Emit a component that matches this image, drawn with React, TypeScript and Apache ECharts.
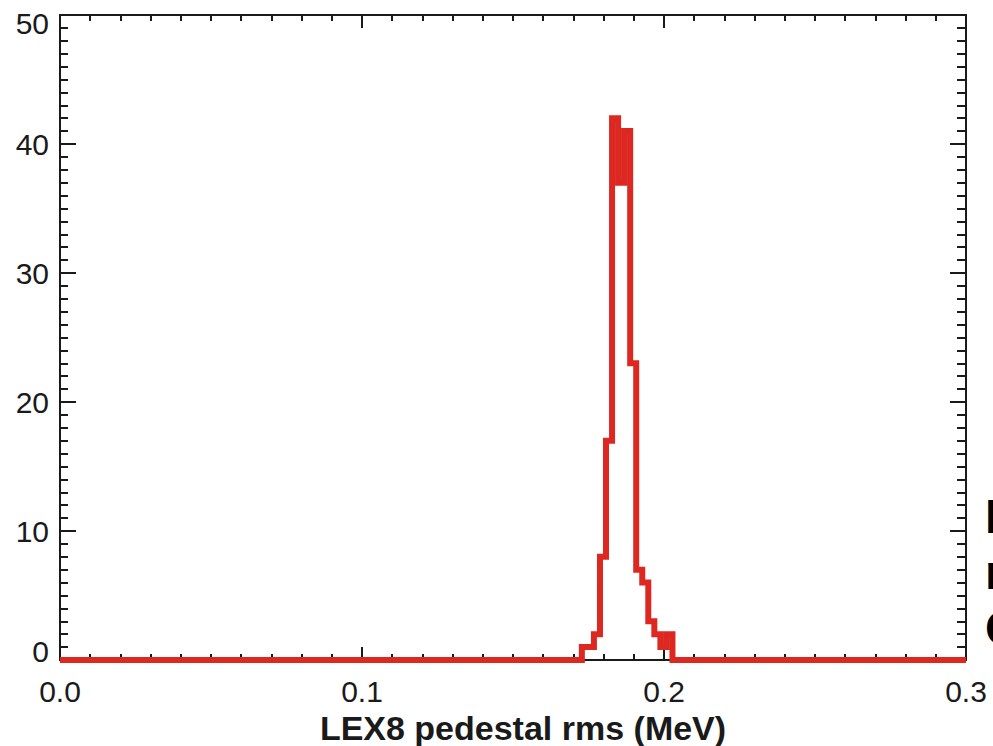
import React, { useEffect, useRef } from "react";
import * as echarts from "echarts";

// Histogram of LEX8 pedestal rms (MeV)
const binStart = 0.1728;
const binWidth = 0.002;
const counts = [1, 1, 2, 8, 17, 42, 37, 41, 23, 7, 6, 3, 2, 1, 2];
const xRange = [0.0, 0.3];
const yRange = [0, 50];
const xLabelDigits = 1;
const xTitle = "LEX8 pedestal rms (MeV)";
const statLines = ["Mean = 0.186", "rms = 0.004", "Count = 193"];

const RED = "#DC2820";
const INK = "#1a1a1a";
const FONT = "'Liberation Sans', Arial, Helvetica, sans-serif";

function buildSteps(): number[][] {
  const pts: number[][] = [[xRange[0], 0], [binStart, 0]];
  counts.forEach((c, i) => {
    const l = binStart + i * binWidth;
    const r = l + binWidth;
    pts.push([l, c], [r, c]);
  });
  const end = binStart + counts.length * binWidth;
  pts.push([end, 0], [xRange[1], 0]);
  return pts;
}

export default function App() {
  const ref = useRef<HTMLDivElement>(null);
  useEffect(() => {
    if (!ref.current) return;
    const chart = echarts.init(ref.current, undefined, { renderer: "svg" });
    const axisLine = { show: true, onZero: false, lineStyle: { color: INK, width: 2 } };
    const xBase = {
      type: "value" as const,
      min: xRange[0],
      max: xRange[1],
      interval: 0.1,
      splitLine: { show: false },
      axisLine,
    };
    const yBase = {
      type: "value" as const,
      min: yRange[0],
      max: yRange[1],
      interval: 10,
      splitLine: { show: false },
      axisLine,
    };
    chart.setOption({
      animation: false,
      backgroundColor: "#ffffff",
      grid: {
        left: 60,
        right: 27,
        top: 15,
        bottom: 86,
        containLabel: false,
        outerBoundsMode: "none",
      },
      xAxis: [
        {
          ...xBase,
          position: "bottom",
          axisTick: { show: true, inside: true, length: 13, lineStyle: { color: INK, width: 2 } },
          minorTick: { show: true, splitNumber: 10, length: 6, lineStyle: { color: INK, width: 2 } },
          axisLabel: {
            show: true,
            margin: 16,
            fontFamily: FONT,
            fontSize: 30,
            color: INK,
            formatter: (v: number) => v.toFixed(xLabelDigits),
          },
          name: xTitle,
          nameLocation: "middle",
          nameGap: 46,
          nameTextStyle: {
            fontFamily: FONT,
            fontSize: 34,
            fontWeight: "bold",
            color: INK,
            padding: [0, 0, 0, 20],
          },
        },
        {
          ...xBase,
          position: "top",
          axisTick: { show: true, inside: true, length: 13, lineStyle: { color: INK, width: 2 } },
          minorTick: { show: true, splitNumber: 10, length: 6, lineStyle: { color: INK, width: 2 } },
          axisLabel: { show: false },
        },
      ],
      yAxis: [
        {
          ...yBase,
          position: "left",
          axisTick: { show: true, inside: true, length: 16, lineStyle: { color: INK, width: 2 } },
          minorTick: { show: true, splitNumber: 10, length: 8, lineStyle: { color: INK, width: 2 } },
          axisLabel: {
            show: true,
            margin: 11,
            fontFamily: FONT,
            fontSize: 30,
            lineHeight: 17,
            color: INK,
            verticalAlignMinLabel: "bottom",
            verticalAlignMaxLabel: "top",
          },
        },
        {
          ...yBase,
          position: "right",
          axisTick: { show: true, inside: true, length: 16, lineStyle: { color: INK, width: 2 } },
          minorTick: { show: true, splitNumber: 10, length: 9, lineStyle: { color: INK, width: 2 } },
          axisLabel: { show: false },
        },
      ],
      series: [
        {
          type: "line",
          xAxisIndex: 0,
          yAxisIndex: 0,
          data: buildSteps(),
          showSymbol: false,
          symbol: "none",
          clip: false,
          silent: true,
          z: 5,
          lineStyle: { color: RED, width: 6, cap: "butt", join: "miter" },
        },
      ],
      graphic: statLines.map((t, i) => ({
        type: "text",
        x: 985,
        y: 492 + i * 56,
        silent: true,
        style: {
          text: t,
          font: `bold 48px ${FONT}`,
          fill: "#000000",
        },
      })),
    });
    return () => chart.dispose();
  }, []);
  return (
    <div
      ref={ref}
      style={{ position: "fixed", left: 0, top: 0, width: 993, height: 746 }}
    />
  );
}
